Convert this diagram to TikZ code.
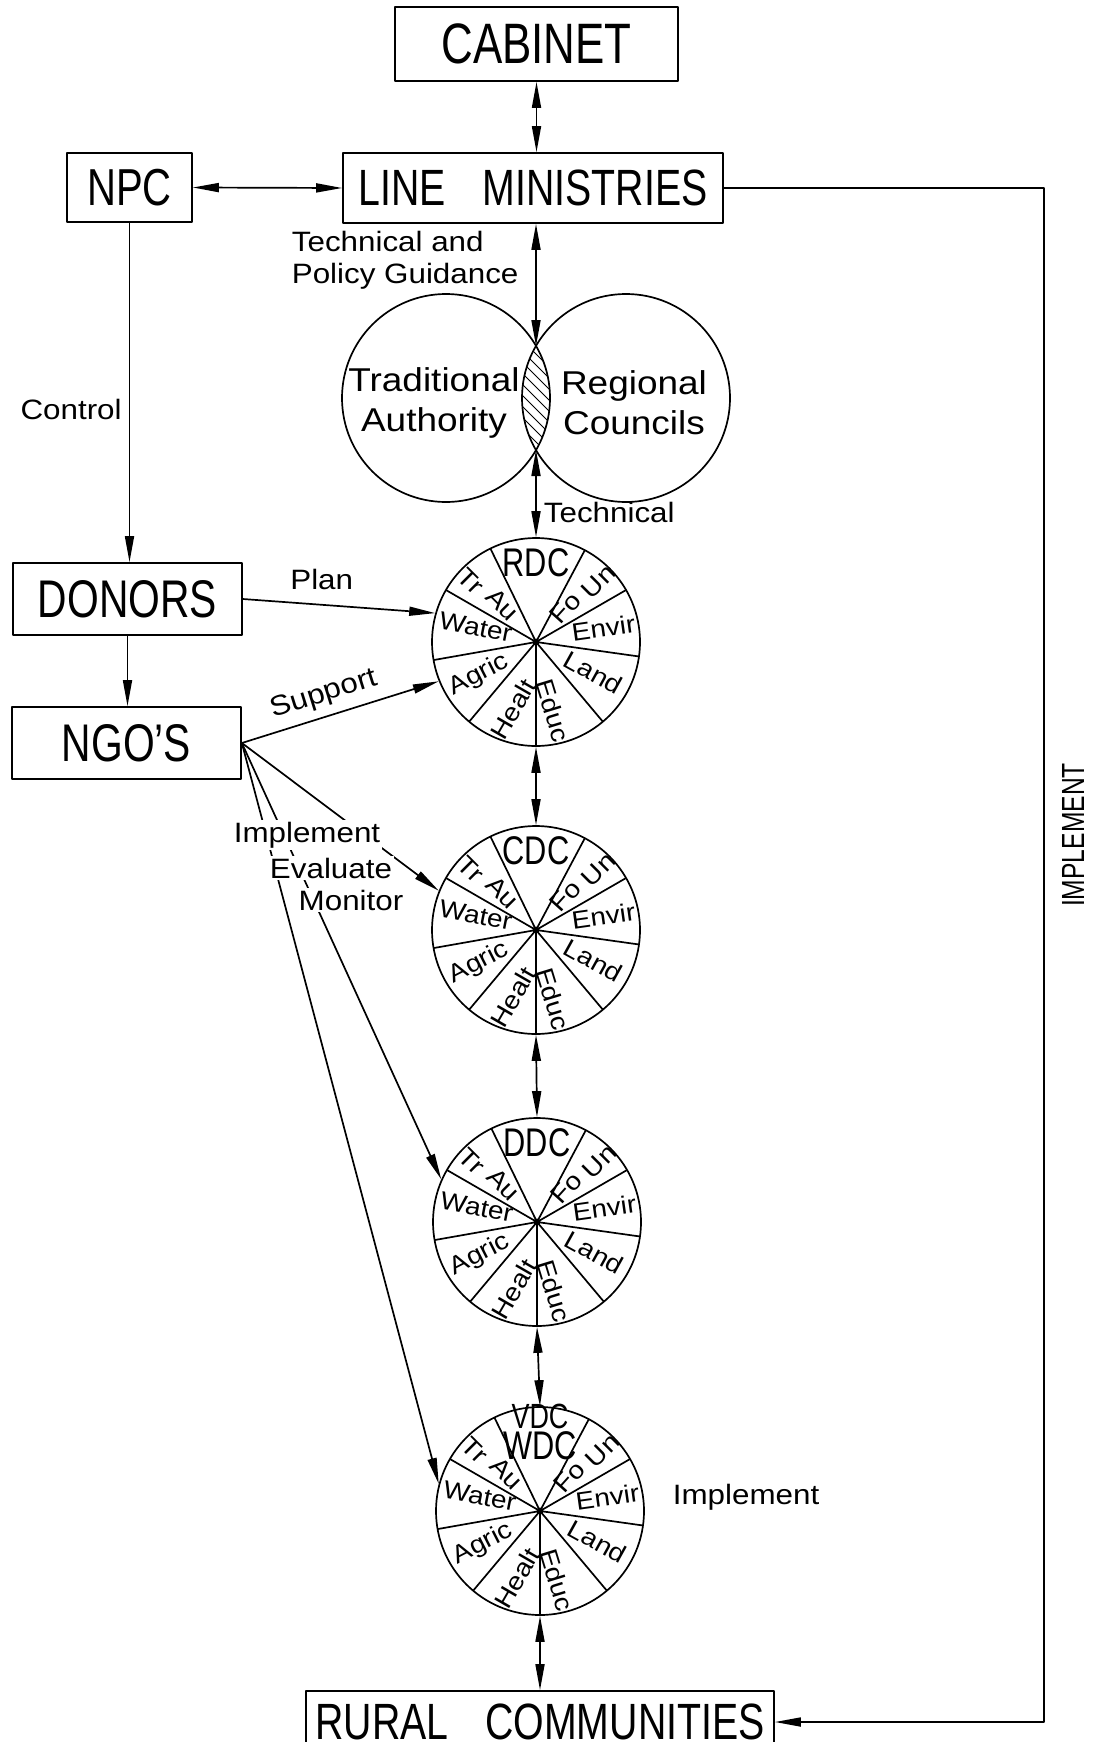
\documentclass[tikz,border=0pt]{standalone}
\usepackage{fontspec}
\newfontfamily\boxfont{Liberation Sans}[FakeStretch=0.77]
\newfontfamily\lblfont{Liberation Sans}[FakeStretch=1.12]
\usetikzlibrary{arrows.meta,calc}

% One committee wheel: rim, nine spokes, hub dot and sector names.
\newcommand{\councilwheel}[4]{%
  \node[wheel] (#1) at (#2,#3) {};
  \begin{scope}[shift={(#2,#3)}]
    \foreach \a in {116,62,30,-8,-50,-90,-130,-170,150}
      \draw (0,0) -- (\a:104);
    \fill (0,0) circle (3.5);
    \node[hub] (#1-title) at (90:79) {#4};
    \foreach \ang/\dist/\rot/\txt [count=\i] in
      {49/45/48/Fo, 44/87/45/Un, 12/69/8/Envir, -28/65/-29/Land,
       -76/71/-73/Educ, 251/71/60/Healt, 210/66/27/Agric, 166/62/-11/Water,
       137/89/-45/Tr, 132/50/-45/Au}
      \node[seg,rotate=\rot] (#1-\i) at (\ang:\dist) {\txt};
  \end{scope}}

\begin{document}
\begin{tikzpicture}[x=1pt,y=1pt,line width=1.7pt,line join=round,
  >={Triangle[length=26pt,width=9pt]},
  box/.style={draw,inner sep=0pt,font=\boxfont\fontsize{#1}{#1}\selectfont},
  lbl/.style={font=\lblfont\fontsize{28}{32}\selectfont,inner sep=2pt},
  cir/.style={font=\lblfont\fontsize{33}{40}\selectfont,align=center,inner sep=0pt},
  wheel/.style={circle,draw,minimum size=208pt,inner sep=0pt},
  hub/.style={font=\boxfont\fontsize{40}{31}\selectfont,align=center,inner sep=0pt},
  seg/.style={font=\lblfont\fontsize{25}{25}\selectfont,inner sep=0pt}]
  \path[use as bounding box] (0,0) rectangle (1093,-1742);

  \node[box=57,minimum width=283pt,minimum height=74pt] (cabinet) at (536.5,-44) {CABINET};
  \node[box=51,minimum width=380pt,minimum height=70pt] (lm) at (533,-188) {LINE\hspace{26pt} MINISTRIES};
  \node[box=52,minimum width=125pt,minimum height=69pt] (npc) at (129.5,-187.5) {NPC};
  \node[box=53,minimum width=229pt,minimum height=72pt] (donors) at (127.5,-599) {DONORS};
  \node[box=53,minimum width=229pt,minimum height=72pt] (ngos) at (126.5,-743) {NGO’S};
  \node[box=51,minimum width=468pt,minimum height=62pt] (rural) at (540,-1722) {RURAL\hspace{26pt} COMMUNITIES};

  % Overlapping bodies with the shared (hatched) part.
  \node[wheel] (ta) at (446,-398) {};
  \node[wheel] (rc) at (626,-398) {};
  \begin{scope}
    \clip (446,-398) circle (104);
    \clip (626,-398) circle (104);
    \foreach \k in {-66,-55,...,66}
      \draw[line width=1pt] (476+\k,-338) -- ++(120,-120);
  \end{scope}
  \node[cir] (talbl) at (434,-403) {Traditional\\Authority};
  \node[cir] (rclbl) at (634,-403) {Regional\\Councils};
  \coordinate (lenstop) at (536,-346);
  \coordinate (lensbot) at (536,-450);
  \node[lbl,align=left,anchor=west] (guide) at (289,-260) {Technical and\\Policy Guidance};

  \councilwheel{rdc}{536}{-642}{RDC}
  \councilwheel{cdc}{536}{-930}{CDC}
  \councilwheel{ddc}{537}{-1222}{DDC}
  \councilwheel{vdc}{540}{-1511}{\fontsize{35}{30}\selectfont VDC\\WDC}

  \draw[<->] (cabinet.south) -- (cabinet.south |- lm.north);
  \draw[<->] (npc.east) -- (lm.west);
  \draw[<->] (lenstop |- lm.south) -- (lenstop);
  \draw[<->] (lensbot) -- (rdc.north)
    node[lbl,pos=.72,anchor=west,xshift=5pt] (techlbl) {Technical};
  \draw[<->] (rdc.south) -- (cdc.north);
  \draw[<->] (cdc.south) -- (ddc.north);
  \draw[<->] (ddc.south) -- (vdc.north);
  \draw[<->] (vdc.south) -- (rural.north);

  \draw[->] (npc.south) -- (npc.south |- donors.north)
    node[lbl,pos=.55,left=5pt] (ctl) {Control};
  \draw[->] (donors.south) -- (donors.south |- ngos.north);
  \draw[->] (donors.east) -- (rdc.164)
    node[lbl,pos=.41,above=12pt] (plan) {Plan};
  \draw[->] (ngos.east) -- (rdc.202)
    node[lbl,pos=.45,sloped,above=6pt] (sup) {Support};

  % Field lines run under the three stacked words.
  \draw[->] (ngos.east) -- (cdc.158);
  \draw[->] (ngos.east) -- (ddc.156);
  \draw[->] (ngos.east) -- (vdc.165);
  \node[lbl,fill=white] (imp) at (307,-835) {Implement};
  \node[lbl,fill=white] (eva) at (331,-868) {Evaluate};
  \node[lbl,fill=white] (mon) at (351,-900) {Monitor};

  \coordinate (turn) at (1044,-188);
  \draw[->] (lm.east) -- (turn) |- (rural.east);
  \node[font=\boxfont\fontsize{32}{32}\selectfont,rotate=90] (impl) at (1073,-835) {IMPLEMENT};
  \node[lbl,anchor=west] (vimp) at (670,-1497) {Implement};
\end{tikzpicture}
\end{document}
